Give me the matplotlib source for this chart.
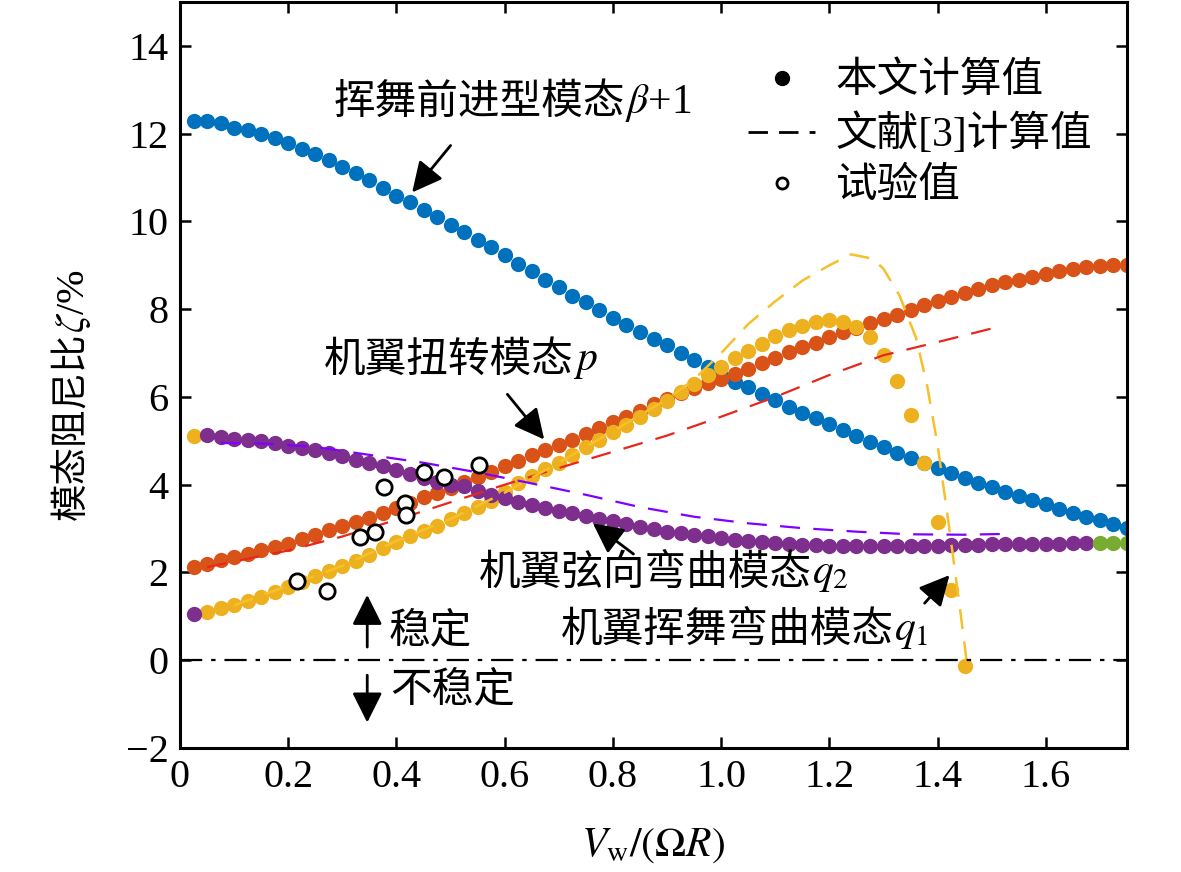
import matplotlib
matplotlib.use('Agg')
import matplotlib.pyplot as plt
from matplotlib.lines import Line2D

plt.rcParams['font.family'] = ['Liberation Serif', 'Noto Sans CJK SC']
plt.rcParams['mathtext.fontset'] = 'stix'
plt.rcParams['axes.unicode_minus'] = True

# ---- data ----
x_all = [0.025, 0.05, 0.075, 0.1, 0.125, 0.15, 0.175, 0.2, 0.225, 0.25,
         0.275, 0.3, 0.325, 0.35, 0.375, 0.4, 0.425, 0.45, 0.475, 0.5,
         0.525, 0.55, 0.575, 0.6, 0.625, 0.65, 0.675, 0.7, 0.725, 0.75,
         0.775, 0.8, 0.825, 0.85, 0.875, 0.9, 0.925, 0.95, 0.975, 1.0,
         1.025, 1.05, 1.075, 1.1, 1.125, 1.15, 1.175, 1.2, 1.225, 1.25,
         1.275, 1.3, 1.325, 1.35, 1.375, 1.4, 1.425, 1.45, 1.475, 1.5,
         1.525, 1.55, 1.575, 1.6, 1.625, 1.65, 1.675, 1.7, 1.725, 1.75]

# flap-lag forward mode beta+1
zeta_lag = [12.28, 12.28, 12.24, 12.14, 12.09, 12.00, 11.90, 11.79, 11.64, 11.54,
            11.39, 11.25, 11.10, 10.95, 10.76, 10.59, 10.45, 10.26, 10.10, 9.91,
            9.76, 9.58, 9.41, 9.23, 9.04, 8.87, 8.67, 8.51, 8.31, 8.16,
            7.98, 7.81, 7.65, 7.48, 7.33, 7.18, 7.00, 6.84, 6.68, 6.48,
            6.35, 6.22, 6.06, 5.92, 5.77, 5.64, 5.52, 5.39, 5.24, 5.10,
            4.98, 4.85, 4.73, 4.62, 4.50, 4.39, 4.27, 4.16, 4.04, 3.94,
            3.84, 3.75, 3.65, 3.55, 3.45, 3.36, 3.27, 3.19, 3.11, 3.01]

# wing torsion p
zeta_p = [2.12, 2.20, 2.29, 2.36, 2.43, 2.52, 2.59, 2.66, 2.76, 2.86,
          2.96, 3.06, 3.16, 3.25, 3.36, 3.47, 3.59, 3.71, 3.81, 3.93,
          4.06, 4.18, 4.30, 4.42, 4.55, 4.67, 4.80, 4.90, 5.03, 5.15,
          5.30, 5.42, 5.55, 5.68, 5.83, 5.96, 6.08, 6.20, 6.31, 6.42,
          6.53, 6.64, 6.78, 6.88, 7.02, 7.14, 7.24, 7.36, 7.47, 7.58,
          7.68, 7.77, 7.87, 7.99, 8.09, 8.18, 8.27, 8.37, 8.46, 8.54,
          8.61, 8.67, 8.74, 8.81, 8.87, 8.91, 8.95, 8.98, 9.00, 9.00]

# wing flap bending q1 (ends at 1.45)
zeta_q1 = [5.12, 1.10, 1.18, 1.26, 1.34, 1.45, 1.56, 1.67, 1.79, 1.91,
           2.03, 2.14, 2.27, 2.40, 2.55, 2.70, 2.82, 2.94, 3.07, 3.21,
           3.35, 3.49, 3.63, 3.83, 4.03, 4.20, 4.36, 4.50, 4.68, 4.85,
           5.03, 5.19, 5.37, 5.55, 5.72, 5.91, 6.11, 6.29, 6.49, 6.69,
           6.88, 7.05, 7.21, 7.38, 7.52, 7.62, 7.71, 7.76, 7.71, 7.60,
           7.37, 6.95, 6.36, 5.58, 4.50, 3.14, 1.60, -0.14]

# wing chord bending q2 (to 1.675)
zeta_q2 = [1.05, 5.13, 5.09, 5.05, 5.03, 4.99, 4.95, 4.89, 4.84, 4.79,
           4.72, 4.65, 4.57, 4.50, 4.42, 4.34, 4.25, 4.15, 4.07, 4.00,
           3.96, 3.86, 3.77, 3.69, 3.61, 3.54, 3.47, 3.41, 3.35, 3.28,
           3.22, 3.17, 3.11, 3.04, 2.98, 2.93, 2.90, 2.86, 2.83, 2.79,
           2.75, 2.71, 2.69, 2.67, 2.65, 2.63, 2.62, 2.61, 2.61, 2.60,
           2.60, 2.60, 2.60, 2.60, 2.61, 2.61, 2.62, 2.62, 2.63, 2.64,
           2.65, 2.65, 2.66, 2.66, 2.66, 2.67, 2.67]

x_green = [1.7, 1.725, 1.75]
zeta_green = [2.67, 2.67, 2.67]

# reference [3] curves
ref_p_x = [0.05, 0.1, 0.2, 0.3, 0.4, 0.5, 0.6, 0.7, 0.8, 0.9, 1.0, 1.1, 1.2, 1.3, 1.4, 1.5]
ref_p_y = [2.12, 2.25, 2.50, 2.82, 3.20, 3.60, 4.00, 4.38, 4.75, 5.12, 5.55, 6.00, 6.50, 6.95, 7.25, 7.56]

ref_q2_x = [0.075, 0.15, 0.25, 0.35, 0.45, 0.55, 0.65, 0.75, 0.85, 0.95, 1.05, 1.15, 1.25, 1.35, 1.45, 1.53]
ref_q2_y = [4.95, 4.94, 4.86, 4.68, 4.50, 4.28, 4.03, 3.77, 3.49, 3.27, 3.12, 3.01, 2.93, 2.87, 2.86, 2.88]

ref_q1_x = [0.1, 0.2, 0.3, 0.4, 0.5, 0.6, 0.7, 0.8, 0.9, 0.95, 1.0, 1.05, 1.1, 1.15, 1.2, 1.24,
            1.28, 1.3, 1.33, 1.36, 1.38, 1.4, 1.42, 1.44, 1.455]
ref_q1_y = [1.25, 1.70, 2.15, 2.72, 3.22, 3.82, 4.50, 5.22, 5.95, 6.40, 7.00, 7.66, 8.18, 8.65, 9.00, 9.25,
            9.15, 8.92, 8.30, 7.35, 6.30, 4.90, 3.15, 1.30, -0.15]

# test values
test_x = [0.216, 0.272, 0.332, 0.360, 0.377, 0.415, 0.418, 0.451, 0.488, 0.553]
test_y = [1.81, 1.58, 2.80, 2.92, 3.95, 3.58, 3.31, 4.29, 4.18, 4.44]

c_blue = '#0072BD'
c_orange = '#D95319'
c_yellow = '#EDB120'
c_purple = '#7E2F8E'
c_green = '#77AC30'

fig = plt.figure(figsize=(11.81, 8.72), dpi=100)
ax = fig.add_axes([0.1524, 0.1422, 0.8019, 0.8555])

ms = 11
ax.plot(x_all, zeta_lag, 'o', color=c_blue, ms=ms, mec='none')
ax.plot(x_all, zeta_p, 'o', color=c_orange, ms=ms, mec='none')
ax.plot(x_all[:len(zeta_q1)], zeta_q1, 'o', color=c_yellow, ms=ms, mec='none')
ax.plot(x_all[:len(zeta_q2)], zeta_q2, 'o', color=c_purple, ms=ms, mec='none')
ax.plot(x_green, zeta_green, 'o', color=c_green, ms=ms, mec='none')

ax.plot(ref_p_x, ref_p_y, color='#E8261C', lw=1.6, dashes=(9, 6))
ax.plot(ref_q2_x, ref_q2_y, color='#8000FF', lw=1.6, dashes=(9, 6))
ax.plot(ref_q1_x, ref_q1_y, color='#F5C02C', lw=1.8, dashes=(8, 5))

ax.plot(test_x, test_y, 'o', mfc='white', mec='black', mew=2.0, ms=11)

ax.axhline(0, color='black', lw=1.6, dashes=(10, 4, 2, 4))

ax.set_xlim(0, 1.75)
ax.set_ylim(-2, 15)
ax.set_xticks([0, 0.2, 0.4, 0.6, 0.8, 1.0, 1.2, 1.4, 1.6])
ax.set_xticklabels(['0', '0.2', '0.4', '0.6', '0.8', '1.0', '1.2', '1.4', '1.6'])
ax.set_yticks([-2, 0, 2, 4, 6, 8, 10, 12, 14])
ax.tick_params(direction='in', length=8, width=1.8, labelsize=29, top=True, right=True, pad=8)
for s in ax.spines.values():
    s.set_linewidth(2.2)

ax.set_xlabel(r'$V_{\rm w}/(\mathit{\Omega R})$', fontsize=30, labelpad=22)

# y label: CJK part as plain text, zeta part chained after it
yl = ax.text(-0.113, 0.3056, '模态阻尼比', rotation=90, fontsize=27,
             ha='center', va='bottom', transform=ax.transAxes)
ax.annotate(r'$\zeta$/%', xy=(0.5, 1.0), xycoords=yl, rotation=90,
            fontsize=29, ha='center', va='bottom', annotation_clip=False)

fs = 30


def label(x, y, cjk, math):
    t = ax.text(x, y, cjk, fontsize=fs, va='center')
    ax.annotate(math, xy=(1.0, 0.5), xycoords=t, fontsize=fs, va='center', ha='left')
    return t


arr = dict(arrowstyle='-|>', color='black', lw=2.0, mutation_scale=46, shrinkA=0, shrinkB=0)
ax.annotate('', xy=(0.429, 10.66), xytext=(0.50, 11.73), arrowprops=arr)
label(0.283, 12.69, '挥舞前进型模态', r'$\beta$+1')

ax.annotate('', xy=(0.673, 5.03), xytext=(0.605, 6.06), arrowprops=arr)
label(0.265, 6.81, '机翼扭转模态', r'$p$')

ax.annotate('', xy=(0.763, 3.12), xytext=(0.838, 2.42), arrowprops=arr)
label(0.552, 1.94, '机翼弦向弯曲模态', r'$q_2$')

ax.annotate('', xy=(1.422, 1.94), xytext=(1.376, 1.30), arrowprops=arr)
label(0.704, 0.64, '机翼挥舞弯曲模态', r'$q_1$')

ax.annotate('', xy=(0.346, 1.49), xytext=(0.346, 0.30), arrowprops=arr)
ax.text(0.385, 0.64, '稳定', fontsize=fs, va='center')
ax.annotate('', xy=(0.346, -1.42), xytext=(0.346, -0.34), arrowprops=arr)
ax.text(0.388, -0.69, '不稳定', fontsize=fs, va='center')

handles = [
    Line2D([], [], ls='none', marker='o', color='black', ms=10),
    Line2D([], [], color='black', lw=2.0, dashes=(7, 4)),
    Line2D([], [], ls='none', marker='o', mfc='white', mec='black', mew=2.0, ms=8),
]
labels = ['本文计算值', '文献[3]计算值', '试验值']
ax.legend(handles, labels, loc='upper left', bbox_to_anchor=(0.6, 0.919),
          frameon=False, fontsize=fs, handlelength=1.6, handletextpad=0.5,
          labelspacing=0.3, borderpad=0, borderaxespad=0)

fig.savefig('out.png', dpi=100)
